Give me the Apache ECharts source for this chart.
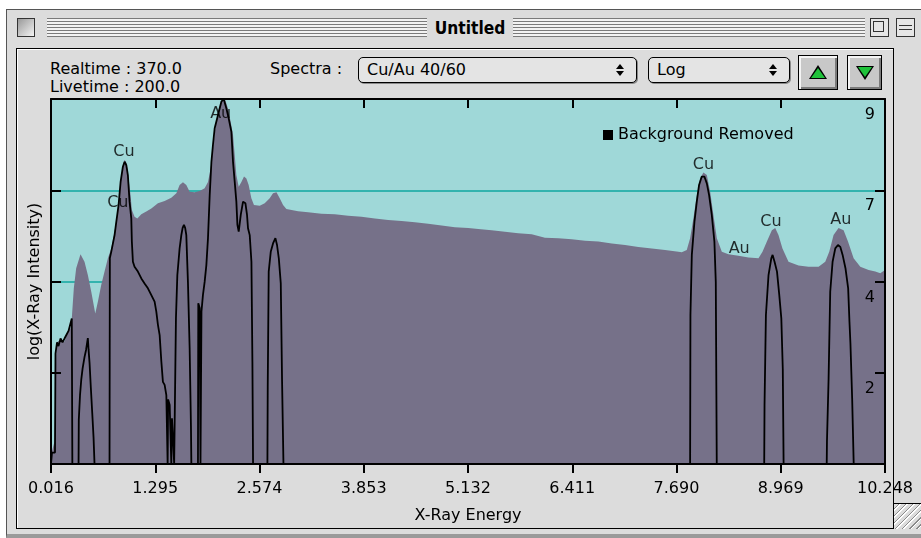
<!DOCTYPE html>
<html>
<head>
<meta charset="utf-8">
<script src="https://cdn.jsdelivr.net/npm/echarts@6/dist/echarts.min.js"></script>
<style>
    body { margin: 0; background: #fff; font-family: "DejaVu Sans", sans-serif; }
    #page { position: relative; width: 921px; height: 538px; overflow: hidden; }
    .abs { position: absolute; box-sizing: border-box; }
    #win { left: 6px; top: 9px; width: 940px; height: 529px; background: #dcdcdc;
           border: 1px solid #555; border-bottom: 4px solid #9a9a9a; }
    .stripes { background: repeating-linear-gradient(to bottom, #7a7a7a 0 1px, #f2f2f2 1px 3px); }
    .box { border: 1px solid #333; background: linear-gradient(135deg, #999, #f4f4f4); }
    #title { left: 400px; top: 15px; width: 140px; height: 26px; text-align: center;
             font-weight: bold; font-size: 18px; line-height: 26px; color: #000;
             transform: scaleX(0.86); }
    #frame { left: 16px; top: 48px; width: 878px; height: 481px; border: 1px solid #000;
             box-shadow: inset 1px 1px 0 #fff; }
    .txt { font-size: 16px; color: #000; white-space: nowrap; line-height: 19px; }
    .popup { height: 26px; border: 1px solid #000; border-radius: 5px; background: #e4e4e4;
             box-shadow: 1px 1px 0 #8a8a8a; font-size: 16px; line-height: 24px; padding-left: 8px; }
    .arr { width: 0; height: 0; border-left: 4px solid transparent; border-right: 4px solid transparent; }
    .btn { border: 1px solid #000; background: #c8c8c8; box-shadow: inset 2px 2px 0 #f4f4f4, inset -2px -2px 0 #7a7a7a; }
    #grip { left: 893px; top: 503px; width: 28px; height: 26px; border-left: 1px solid #000; border-top: 1px solid #000;
            background: repeating-linear-gradient(135deg, #dcdcdc 0 3px, #8a8a8a 3px 4px, #fff 4px 5px); }
    #chart { position: absolute; left: 0; top: 0; width: 921px; height: 538px; }
</style>
</head>
<body>
<div id="page">
    <div class="abs" id="win"></div>
    <div class="abs box" style="left:17px;top:18px;width:18px;height:19px;"></div>
    <div class="abs stripes" style="left:47px;top:18px;width:380px;height:19px;"></div>
    <div class="abs stripes" style="left:513px;top:18px;width:352px;height:19px;"></div>
    <div class="abs" id="title">Untitled</div>
    <div class="abs" style="left:870px;top:18px;width:19px;height:19px;border:1px solid #333;background:#e6e6e6;">
        <div class="abs" style="left:2px;top:2px;width:11px;height:11px;border:1px solid #333;"></div>
    </div>
    <div class="abs" style="left:896px;top:18px;width:19px;height:19px;border:1px solid #333;background:#e6e6e6;">
        <div class="abs" style="left:2px;top:6px;width:13px;height:5px;border-top:1px solid #333;border-bottom:1px solid #333;"></div>
    </div>
    <div class="abs" id="frame"></div>

    <div class="abs txt" style="left:50px;top:59px;">Realtime : 370.0</div>
    <div class="abs txt" style="left:50px;top:77px;">Livetime : 200.0</div>
    <div class="abs txt" style="left:270px;top:59px;">Spectra :</div>
    <div class="abs popup" style="left:358px;top:57px;width:279px;">Cu/Au 40/60
        <div class="abs arr" style="left:257px;top:6px;border-bottom:5px solid #000;"></div>
        <div class="abs arr" style="left:257px;top:13px;border-top:5px solid #000;"></div>
    </div>
    <div class="abs popup" style="left:648px;top:57px;width:142px;">Log
        <div class="abs arr" style="left:120px;top:6px;border-bottom:5px solid #000;"></div>
        <div class="abs arr" style="left:120px;top:13px;border-top:5px solid #000;"></div>
    </div>
    <div class="abs btn" style="left:798px;top:55px;width:40px;height:35px;">
        <div class="abs arr" style="left:10px;top:9px;border-left-width:9px;border-right-width:9px;border-bottom:14px solid #000;"></div>
        <div class="abs arr" style="left:12px;top:12px;border-left-width:7px;border-right-width:7px;border-bottom:10px solid #1fc23a;"></div>
    </div>
    <div class="abs btn" style="left:847px;top:55px;width:35px;height:35px;">
        <div class="abs arr" style="left:8px;top:10px;border-left-width:9px;border-right-width:9px;border-top:14px solid #000;"></div>
        <div class="abs arr" style="left:10px;top:11px;border-left-width:7px;border-right-width:7px;border-top:10px solid #1fc23a;"></div>
    </div>
    <div class="abs" id="grip"></div>

    <div id="chart"></div>
</div>

<script>
    // energy axis (keV): first label, last label, tick step
    var xStart = 0.016;
    var xEnd = 10.248;
    var xStep = 1.279;
    // log intensity axis
    var yMax = 9.6;
    var yStep = 2.4;

    // total spectrum (filled)
    var totalE = [0.016, 0.026, 0.059, 0.080, 0.100, 0.141, 0.182, 0.222, 0.255, 0.271, 0.296, 0.325, 0.378, 0.427,
        0.468, 0.510, 0.559, 0.591, 0.632, 0.673, 0.714, 0.755, 0.787, 0.817, 0.845, 0.870, 0.898, 0.919, 0.943, 0.968,
        0.992, 1.008, 1.041, 1.075, 1.124, 1.185, 1.247, 1.328, 1.410, 1.492, 1.554, 1.594, 1.635, 1.676, 1.717, 1.778,
        1.840, 1.901, 1.942, 1.975, 2.003, 2.032, 2.064, 2.097, 2.126, 2.155, 2.187, 2.220, 2.249, 2.270, 2.290, 2.319,
        2.352, 2.384, 2.413, 2.441, 2.474, 2.506, 2.577, 2.638, 2.699, 2.740, 2.782, 2.822, 2.863, 2.904, 3.047, 3.170,
        3.334, 3.498, 3.661, 3.825, 3.989, 4.152, 4.317, 4.480, 4.643, 4.808, 4.971, 5.134, 5.257, 5.422, 5.585, 5.748,
        5.913, 6.076, 6.240, 6.404, 6.568, 6.731, 6.896, 7.059, 7.222, 7.387, 7.550, 7.713, 7.755, 7.816, 7.857, 7.897,
        7.939, 7.980, 8.020, 8.062, 8.103, 8.143, 8.185, 8.246, 8.327, 8.450, 8.573, 8.696, 8.745, 8.799, 8.860, 8.901,
        8.941, 8.990, 9.064, 9.187, 9.310, 9.433, 9.515, 9.564, 9.617, 9.678, 9.740, 9.794, 9.863, 9.945, 10.047,
        10.129, 10.190, 10.248];
    var totalV = [0, 0.32, 0.59, 2.95, 3.22, 3.26, 3.22, 3.48, 3.57, 3.83, 4.62, 5.15, 5.52, 5.32,
        4.97, 4.53, 3.96, 4.27, 4.71, 5.06, 5.41, 5.67, 6.02, 6.37, 6.81, 7.42, 7.86, 8.00, 7.91, 7.51,
        7.07, 6.68, 6.50, 6.46, 6.57, 6.64, 6.72, 6.86, 6.92, 7.00, 7.12, 7.34, 7.41, 7.34, 7.16, 7.15,
        7.18, 7.25, 7.42, 7.78, 8.30, 8.83, 9.27, 9.49, 9.60, 9.57, 9.35, 9.00, 8.65, 8.13, 7.60, 7.29,
        7.42, 7.56, 7.51, 7.34, 6.99, 6.81, 6.79, 6.86, 6.99, 7.12, 7.15, 6.99, 6.81, 6.71, 6.65, 6.62,
        6.58, 6.57, 6.53, 6.50, 6.46, 6.42, 6.39, 6.36, 6.32, 6.27, 6.23, 6.21, 6.18, 6.15, 6.11, 6.07,
        6.04, 5.95, 5.94, 5.91, 5.87, 5.85, 5.80, 5.76, 5.71, 5.67, 5.63, 5.58, 5.57, 5.63, 5.94, 6.46,
        7.07, 7.51, 7.67, 7.60, 7.16, 6.55, 5.94, 5.58, 5.52, 5.48, 5.43, 5.41, 5.58, 5.85, 6.15, 6.21,
        6.02, 5.67, 5.32, 5.22, 5.19, 5.19, 5.32, 5.58, 6.02, 6.21, 6.15, 5.85, 5.41, 5.19, 5.10,
        5.06, 5.02, 5.10];

    // background removed spectrum (black line)
    var removedE = [0.016, 0.022, 0.028, 0.065, 0.071, 0.090, 0.108, 0.133, 0.157, 0.182, 0.206, 0.231, 0.255, 0.271, 0.278,
        0.354, 0.357, 0.372, 0.387, 0.403, 0.427, 0.446, 0.468, 0.477, 0.489, 0.505, 0.522, 0.538, 0.550,
        0.734, 0.738, 0.755, 0.796, 0.817, 0.845, 0.870, 0.898, 0.919, 0.940, 0.959, 0.980, 1.001, 1.008, 1.021,
        1.041, 1.082, 1.124, 1.164, 1.205, 1.247, 1.287, 1.308, 1.328, 1.349, 1.370, 1.389, 1.410, 1.431, 1.447,
        1.453, 1.472, 1.492, 1.500, 1.515, 1.527,
        1.545, 1.549, 1.566, 1.594, 1.615, 1.631, 1.647, 1.662, 1.676, 1.696, 1.717, 1.733, 1.738,
        1.819, 1.823, 1.840, 1.850, 1.858, 1.862, 1.880, 1.901, 1.922, 1.942, 1.963, 1.984, 2.003, 2.024, 2.065,
        2.106, 2.135, 2.168, 2.196, 2.229, 2.249, 2.270, 2.290, 2.303, 2.319, 2.344, 2.372, 2.401, 2.421, 2.433,
        2.454, 2.475, 2.487, 2.495,
        2.671, 2.675, 2.687, 2.712, 2.740, 2.769, 2.789, 2.811, 2.835, 2.851, 2.868,
        7.857, 7.861, 7.878, 7.910, 7.939, 7.967, 8.000, 8.032, 8.062, 8.090, 8.123, 8.155, 8.172, 8.184,
        8.766, 8.770, 8.781, 8.787, 8.819, 8.853, 8.869, 8.893, 8.923, 8.951, 8.976, 8.994, 9.004,
        9.533, 9.536, 9.546, 9.556, 9.576, 9.605, 9.638, 9.671, 9.700, 9.728, 9.763, 9.796, 9.812, 9.824, 9.845,
        9.864, 10.248];
    var removedV = [0, 0, 0.30, 0.30, 2.90, 3.20, 3.10, 3.30, 3.20, 3.30, 3.40, 3.50, 3.55, 3.83, 0,
        0, 1.16, 1.81, 2.21, 2.50, 2.81, 3.00, 3.31, 3.00, 2.66, 2.00, 1.34, 0.70, 0,
        0, 5.42, 5.58, 6.02, 6.37, 6.81, 7.42, 7.82, 7.95, 7.86, 7.60, 6.90, 6.46, 5.85, 5.32,
        5.19, 5.06, 4.88, 4.75, 4.62, 4.44, 4.27, 4.01, 3.66, 3.39, 2.69, 2.16, 2.08, 1.81, 0,
        1.70, 1.55, 0, 1.20, 0.60, 0,
        0, 3.84, 4.97, 5.67, 6.02, 6.21, 6.29, 6.21, 6.02, 4.79, 3.05, 1.00, 0,
        0, 4.23, 4.10, 0, 0, 4.01, 4.44, 4.79, 5.23, 5.94, 7.07, 7.95, 8.39, 8.83, 9.18,
        9.53, 9.60, 9.35, 9.09, 8.74, 7.95, 7.42, 6.90, 6.29, 6.11, 6.55, 6.90, 6.86, 6.55, 6.20,
        6.02, 5.32, 2.69, 0,
        0, 2.03, 5.06, 5.58, 5.80, 5.94, 5.76, 5.41, 4.75, 2.16, 0,
        0, 3.92, 5.50, 6.37, 6.90, 7.34, 7.56, 7.56, 7.38, 7.07, 6.55, 5.85, 4.79, 0,
        0, 1.55, 1.55, 3.92, 4.97, 5.41, 5.50, 5.32, 5.06, 4.44, 3.83, 2.50, 0,
        0, 0.59, 0.59, 2.25, 4.53, 5.32, 5.67, 5.76, 5.71, 5.50, 5.15, 4.62, 3.74, 3.17, 1.73,
        0, 0];

    // element labels on the peaks
    var peakNames = ['Cu', 'Cu', 'Au', 'Cu', 'Au', 'Cu', 'Au'];
    var peakE = [0.910, 0.836, 2.098, 8.020, 8.459, 8.848, 9.707];
    var peakV = [8.20, 6.88, 9.21, 7.86, 5.65, 6.37, 6.41];

    var font = 'DejaVu Sans';

    function pairs(es, vs) {
        return es.map(function (e, i) { return [e - xStart, vs[i]]; });
    }

    var myChart = echarts.init(document.getElementById('chart'));
    var xRange = Math.round((xEnd - xStart) * 1000) / 1000;
    var frameAxis = { show: true, onZero: false, lineStyle: { color: '#000', width: 2 } };
    var options = {
        backgroundColor: 'transparent',
        animation: false,
        textStyle: { fontFamily: font },
        grid: {
            left: 51, top: 99, width: 834, height: 365,
            show: true, backgroundColor: '#9fd8d8', borderWidth: 0
        },
        legend: {
            data: ['Background Removed'],
            left: 598, top: 122,
            icon: 'rect', itemWidth: 10, itemHeight: 10, itemGap: 5,
            textStyle: { color: '#000', fontSize: 16, fontFamily: font }
        },
        xAxis: [{
            type: 'value', position: 'bottom', z: 6,
            min: 0, max: xRange, interval: xStep,
            axisLine: frameAxis,
            axisTick: { show: true, inside: false, length: 9, lineStyle: { color: '#000', width: 2 } },
            axisLabel: {
                color: '#000', fontSize: 16, fontFamily: font, margin: 17,
                formatter: function (v) { return (v + xStart).toFixed(3); }
            },
            splitLine: { show: false },
            name: 'X-Ray Energy', nameLocation: 'middle', nameGap: 44,
            nameTextStyle: { color: '#000', fontSize: 16, fontFamily: font }
        }, {
            type: 'value', position: 'top', z: 6,
            min: 0, max: xRange, interval: xStep,
            axisLine: frameAxis,
            axisTick: { show: true, inside: true, length: 9, lineStyle: { color: '#000', width: 2 } },
            axisLabel: { show: false },
            splitLine: { show: false }
        }],
        yAxis: [{
            type: 'value', position: 'left', z: 6,
            min: 0, max: yMax, interval: yStep,
            axisLine: frameAxis,
            axisTick: { show: true, inside: true, length: 10, lineStyle: { color: '#000', width: 2 } },
            axisLabel: { show: false },
            splitLine: { show: false },
            name: 'log(X-Ray Intensity)', nameLocation: 'middle', nameRotate: 90, nameGap: 8,
            nameTextStyle: { color: '#000', fontSize: 16, fontFamily: font }
        }, {
            type: 'value', position: 'right', z: 6,
            min: 0, max: yMax, interval: yStep,
            axisLine: frameAxis,
            axisTick: { show: true, inside: true, length: 10, lineStyle: { color: '#000', width: 2 } },
            axisLabel: {
                inside: true, margin: 10, color: '#000', fontSize: 16, fontFamily: font,
                verticalAlign: 'top', padding: [8, 0, 0, 0],
                formatter: function (v) { return v === 0 ? '' : String(Math.floor(v + 1e-9)); }
            },
            splitLine: { show: false }
        }, {
            // grid lines only, kept under the spectrum
            type: 'value', position: 'left', z: 1,
            min: 0, max: yMax, interval: yStep,
            axisLine: { show: false },
            axisTick: { show: false },
            axisLabel: { show: false },
            splitLine: { show: true, lineStyle: { color: '#33b3ae', width: 2 } }
        }],
        series: [{
            name: 'Total',
            type: 'line',
            data: pairs(totalE, totalV),
            symbol: 'none',
            lineStyle: { width: 0, color: '#767189' },
            itemStyle: { color: '#767189' },
            areaStyle: { color: '#767189', opacity: 1, origin: 'start' },
            z: 2
        }, {
            name: 'Background Removed',
            type: 'line',
            data: pairs(removedE, removedV),
            symbol: 'none',
            lineStyle: { width: 1.8, color: '#000' },
            itemStyle: { color: '#000' },
            z: 3
        }, {
            name: 'labels',
            type: 'scatter',
            symbolSize: 1,
            itemStyle: { color: 'rgba(0,0,0,0)' },
            data: peakNames.map(function (n, i) { return { name: n, value: [peakE[i] - xStart, peakV[i]] }; }),
            label: {
                show: true, position: 'inside', formatter: '{b}',
                color: '#000', fontSize: 16, fontFamily: font
            },
            silent: true,
            z: 4
        }]
    };
    myChart.setOption(options);
</script>
</body>
</html>
